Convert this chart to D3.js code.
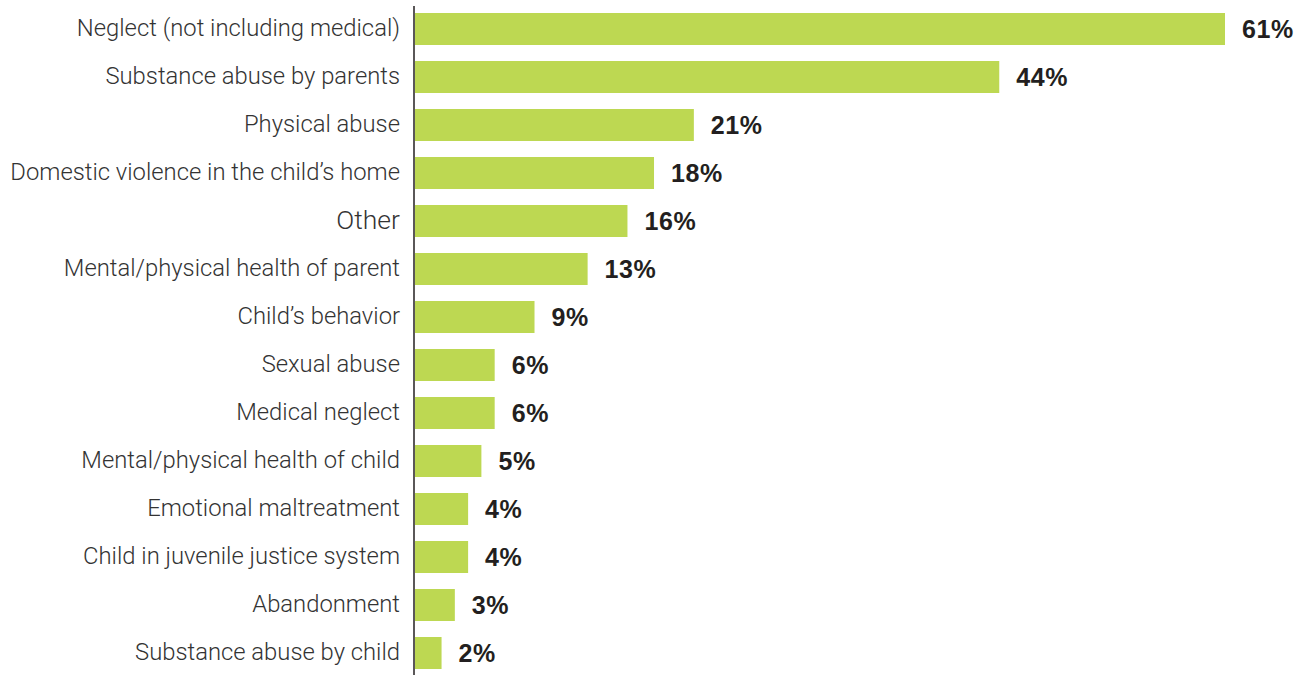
<!DOCTYPE html>
<html>
<head>
<meta charset="utf-8">
<script src="https://cdn.jsdelivr.net/npm/d3@7"></script>
<style>
  html, body { margin: 0; padding: 0; background: #fff; }
  svg { display: block; }
</style>
</head>
<body>
<svg id="chart" width="1305" height="675"></svg>
<script>
// Reasons for removal, share of cases
const categories = [
  "Neglect (not including medical)",
  "Substance abuse by parents",
  "Physical abuse",
  "Domestic violence in the child\u2019s home",
  "Other",
  "Mental/physical health of parent",
  "Child\u2019s behavior",
  "Sexual abuse",
  "Medical neglect",
  "Mental/physical health of child",
  "Emotional maltreatment",
  "Child in juvenile justice system",
  "Abandonment",
  "Substance abuse by child"
];
const values = [61, 44, 21, 18, 16, 13, 9, 6, 6, 5, 4, 4, 3, 2];

const data = categories.map((c, i) => ({ category: c, value: values[i] }));

const svg = d3.select("#chart");
const axisX = 414;

const x = d3.scaleLinear().domain([0, 61]).range([axisX + 1, 1225]);
const y = d3.scaleBand()
  .domain(categories)
  .range([5, 677])
  .paddingInner(1 / 3)
  .paddingOuter(1 / 6);

// bars
svg.append("g")
  .selectAll("rect")
  .data(data)
  .join("rect")
  .attr("x", x(0))
  .attr("y", d => y(d.category))
  .attr("width", d => x(d.value) - x(0))
  .attr("height", y.bandwidth())
  .attr("fill", "#bdd852");

// category labels
svg.append("g")
  .selectAll("text")
  .data(data)
  .join("text")
  .attr("x", 400)
  .attr("y", d => y(d.category) + y.bandwidth() / 2)
  .attr("dy", "0.31em")
  .attr("text-anchor", "end")
  .attr("font-family", "Roboto, 'Liberation Sans', sans-serif")
  .attr("font-weight", 300)
  .attr("font-size", d => d.category === "Other" ? 26.5 : 23.8)
  .attr("fill", "#333")
  .text(d => d.category);

// value labels
svg.append("g")
  .selectAll("text")
  .data(data)
  .join("text")
  .attr("x", d => x(d.value) + 17)
  .attr("y", d => y(d.category) + y.bandwidth() / 2)
  .attr("dy", "0.36em")
  .attr("font-family", "'Liberation Sans', Arial, sans-serif")
  .attr("font-weight", 700)
  .attr("font-size", 25)
  .attr("letter-spacing", 0.6)
  .attr("fill", "#231f20")
  .text(d => d.value + "%");

// category axis line
svg.append("line")
  .attr("x1", axisX).attr("x2", axisX)
  .attr("y1", 6).attr("y2", 675)
  .attr("stroke", "#231f20")
  .attr("stroke-width", 1.5);
</script>
</body>
</html>
